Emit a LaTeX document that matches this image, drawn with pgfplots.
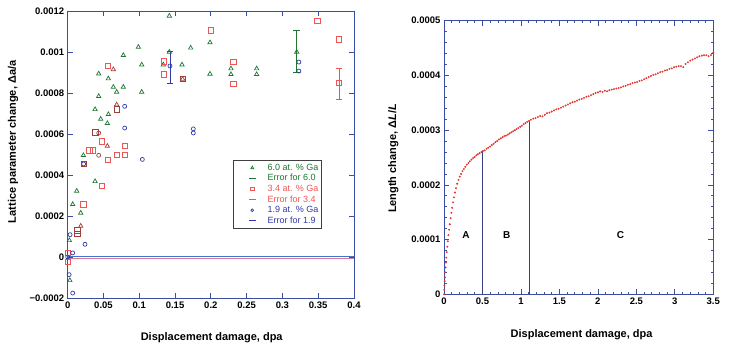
\documentclass[border=0pt]{standalone}
\usepackage{fontspec}
\setmainfont{Liberation Sans}
\usepackage{pgfplots}
\pgfplotsset{compat=1.18}

\definecolor{frameblue}{RGB}{58,78,165}
\definecolor{lineblue}{RGB}{55,65,130}
\definecolor{gGa}{RGB}{30,118,48}
\definecolor{rGa}{RGB}{238,85,85}
\definecolor{bGa}{RGB}{50,58,168}
\definecolor{brGa}{RGB}{160,62,60}
\definecolor{zeroline}{RGB}{60,120,205}
\definecolor{zeropink}{RGB}{225,120,150}
\definecolor{curvered}{RGB}{225,55,50}

\pgfplotsset{
  panel/.style={
    scale only axis,
    anchor=south west,
    axis line style={frameblue, line width=0.9pt},
    tick style={frameblue, line width=0.7pt},
    tick align=inside,
    xtick pos=both, ytick pos=both,
    major tick length=5pt, minor tick length=2.5pt,
    tick label style={font=\bfseries\fontsize{9.5}{11}\selectfont, text=black},
    label style={font=\bfseries\fontsize{11}{13}\selectfont},
    scaled x ticks=false, scaled y ticks=false,
  },
  markleg/.style={legend image code/.code={
      \draw[mark repeat=2,mark phase=2] plot coordinates {(0pt,0pt)(16pt,0pt)(32pt,0pt)};
      \path (0pt,0pt) (30pt,0pt);}},
  barleg/.style={legend image code/.code={
      \draw[line width=0.8pt] (12.5pt,0pt) -- (19.5pt,0pt);
      \path (0pt,0pt) (30pt,0pt);}},
  errbar/.style={mark=none, #1, barleg,
      error bars/.cd, y dir=both, y explicit, error mark=-,
      error bar style={#1, line width=0.9pt},
      error mark options={#1, line width=0.9pt, mark size=3.3pt, rotate=90}},
}

\begin{document}
\begin{tikzpicture}
\path[use as bounding box] (0pt,0pt) rectangle (729pt,350pt);

% ---------------- lattice parameter change ----------------
\begin{axis}[panel,
  at={(67.7pt,52pt)}, width=286.3pt, height=287pt,
  xmin=0, xmax=0.4, ymin=-0.0002, ymax=0.0012,
  xtick={0,0.05,0.1,0.15,0.2,0.25,0.3,0.35,0.4},
  xticklabels={0,0.05,0.1,0.15,0.2,0.25,0.3,0.35,0.4},
  ytick={-0.0002,0,0.0002,0.0004,0.0006,0.0008,0.001,0.0012},
  yticklabels={−0.0002,0,0.0002,0.0004,0.0006,0.0008,0.001,0.0012},
  xlabel={Displacement damage, dpa},
  ylabel={Lattice parameter change, Δa/a},
  xlabel style={at={(rel axis cs:0.503,-0.138)}, anchor=center},
  ylabel style={at={(rel axis cs:-0.191,0.544)}, anchor=center},
  clip=false,
  legend style={at={(rel axis cs:0.5763,0.481)}, anchor=north west,
    draw=black!75, line width=1.1pt, fill=white,
    font=\fontsize{9}{10}\selectfont, inner sep=2.5pt, row sep=0.9pt,
    nodes={inner sep=0.8pt, text height=6.5pt, text depth=1.6pt}},
  legend cell align=left,
]
% reference line at zero
\addplot[zeropink, line width=0.6pt, forget plot] coordinates {(0,-0.0000055) (0.4,-0.0000055)};
\addplot[zeroline, line width=1pt, forget plot] coordinates {(0,0) (0.4,0)};

% 6.0 at.% Ga
\addplot[only marks, mark=triangle, mark size=2.5pt, gGa, mark options={line width=0.7pt}, markleg,
  legend image post style={mark size=1.7pt}] coordinates {
(0.142,0.001176) (0.0987,0.001024) (0.0777,0.000984) (0.1718,0.00102)
(0.1988,0.001046) (0.142,0.001000) (0.1034,0.000938) (0.1336,0.000938)
(0.1597,0.000938) (0.0433,0.000894) (0.0568,0.000870) (0.1988,0.000893)
(0.2281,0.000919) (0.2281,0.000891) (0.264,0.000919) (0.264,0.000891)
(0.0638,0.000829) (0.0777,0.000829) (0.0684,0.000805) (0.1034,0.000805)
(0.0433,0.000784) (0.0382,0.000720) (0.0568,0.000696) (0.0461,0.000673)
(0.0554,0.000652) (0.0219,0.000496) (0.0382,0.000369) (0.0126,0.000322)
(0.0070,0.000257) (0.0182,0.000215) (0.0023,0.000081) (0.0030,-0.000114)
(0.32,0.001000)
};
\addlegendentry{\textcolor{gGa}{6.0 at. \% Ga}}
\addplot[errbar=gGa] coordinates {
(0.32,0.001) += (0,0.000106) -= (0,0.000098)
};
\addlegendentry{\textcolor{gGa}{Error for 6.0}}

% 3.4 at.% Ga
\addplot[only marks, mark=square, mark size=2.6pt, rGa, mark options={line width=0.7pt}, markleg,
  legend image post style={mark size=1.8pt}] coordinates {
(0.3487,0.001151) (0.1997,0.001106) (0.379,0.001062) (0.1345,0.000954)
(0.1345,0.000891) (0.2314,0.000951) (0.2314,0.000846) (0.0559,0.000932)
(0.0475,0.000564) (0.0796,0.000541) (0.0303,0.000520) (0.0349,0.000520)
(0.0689,0.000498) (0.0796,0.000498) (0.0559,0.000475) (0.0475,0.000346)
(0.0219,0.000257) (0.0005,0.000020) (0.0005,-0.000024) (0.379,0.000849)
};
\addlegendentry{\textcolor{rGa}{3.4 at. \% Ga}}
\addplot[errbar=rGa] coordinates {
(0.379,0.000849) += (0,0.00007) -= (0,0.00008)
};
\addlegendentry{\textcolor{rGa}{Error for 3.4}}

% 1.9 at.% Ga
\addplot[only marks, mark=o, mark size=2pt, bGa, mark options={line width=0.7pt}, markleg,
  legend image post style={mark size=1.4pt}] coordinates {
(0.1429,0.000932) (0.323,0.000951) (0.323,0.000907) (0.0796,0.000735)
(0.0796,0.000629) (0.1755,0.000625) (0.1755,0.000605) (0.1043,0.000476)
(0.0223,0.000454) (0.0033,0.000109) (0.0242,0.000062) (0.0070,0.000020)
(0.0020,-0.000086) (0.0070,-0.000176) (0.0000,0.000000)
};
\addlegendentry{\textcolor{bGa}{1.9 at. \% Ga}}
\addplot[errbar=bGa] coordinates {
(0.1429,0.000932) += (0,0.000073) -= (0,0.000086)
};
\addlegendentry{\textcolor{bGa}{Error for 1.9}}

% overlapping marks where the series coincide
\addplot[only marks, mark=triangle, mark size=2.5pt, brGa, mark options={line width=0.7pt}, forget plot] coordinates {
(0.0638,0.000915) (0.0554,0.000541) (0.0684,0.000743) (0.0182,0.000151) (0.1606,0.000868)
};
\addplot[only marks, mark=square, mark size=2.6pt, brGa, mark options={line width=0.7pt}, forget plot] coordinates {
(0.1606,0.000868) (0.0684,0.000720) (0.0386,0.000608) (0.0223,0.000454)
(0.0135,0.000130) (0.0135,0.000111)
};
\addplot[only marks, mark=o, mark size=2pt, brGa, mark options={line width=0.7pt}, forget plot] coordinates {
(0.0433,0.000496) (0.0433,0.000605)
};
\end{axis}

% ---------------- length change ----------------
\begin{axis}[panel,
  at={(444pt,55.7pt)}, width=269.3pt, height=273.6pt,
  xmin=0, xmax=3.5, ymin=0, ymax=0.0005,
  xtick={0,0.5,1,1.5,2,2.5,3,3.5},
  xticklabels={0,0.5,1,1.5,2,2.5,3,3.5},
  ytick={0,0.0001,0.0002,0.0003,0.0004,0.0005},
  yticklabels={0,0.0001,0.0002,0.0003,0.0004,0.0005},
  minor x tick num=4, minor y tick num=4,
  xlabel={Displacement damage, dpa},
  ylabel={Length change, Δ\textit{L}/\textit{L}},
  xlabel style={at={(rel axis cs:0.511,-0.146)}, anchor=center},
  ylabel style={at={(rel axis cs:-0.188,0.496)}, anchor=center},
]
\addplot[lineblue, line width=0.8pt] coordinates {(0.505,0) (0.505,0.000261)};
\addplot[lineblue, line width=0.8pt] coordinates {(1.11,0) (1.11,0.000317)};
\addplot[only marks, mark=*, mark size=0.75pt, curvered, mark options={draw=none}] table {
x y
0.000 0.000000
0.003 0.000008
0.006 0.000016
0.009 0.000024
0.012 0.000031
0.016 0.000040
0.020 0.000049
0.025 0.000058
0.030 0.000067
0.036 0.000077
0.043 0.000087
0.050 0.000097
0.058 0.000108
0.066 0.000118
0.075 0.000128
0.085 0.000139
0.095 0.000149
0.106 0.000158
0.118 0.000168
0.130 0.000177
0.143 0.000186
0.157 0.000194
0.172 0.000202
0.188 0.000209
0.205 0.000215
0.222 0.000220
0.240 0.000225
0.258 0.000229
0.277 0.000233
0.296 0.000237
0.316 0.000240
0.336 0.000243
0.357 0.000246
0.378 0.000249
0.399 0.000251
0.420 0.000254
0.441 0.000256
0.463 0.000258
0.485 0.000260
0.507 0.000262
0.530 0.000263
0.553 0.000266
0.576 0.000268
0.599 0.000270
0.622 0.000273
0.645 0.000275
0.668 0.000278
0.691 0.000280
0.714 0.000283
0.737 0.000285
0.760 0.000287
0.783 0.000289
0.806 0.000290
0.829 0.000292
0.852 0.000294
0.875 0.000296
0.898 0.000298
0.921 0.000300
0.944 0.000302
0.967 0.000304
0.990 0.000306
1.013 0.000308
1.036 0.000311
1.059 0.000313
1.082 0.000315
1.105 0.000317
1.130 0.000319
1.160 0.000321
1.190 0.000322
1.220 0.000324
1.250 0.000326
1.280 0.000325
1.310 0.000328
1.340 0.000331
1.370 0.000332
1.400 0.000334
1.430 0.000336
1.460 0.000338
1.490 0.000339
1.520 0.000341
1.550 0.000343
1.580 0.000345
1.610 0.000347
1.640 0.000349
1.670 0.000351
1.700 0.000352
1.730 0.000354
1.760 0.000356
1.790 0.000357
1.820 0.000359
1.850 0.000361
1.880 0.000362
1.910 0.000364
1.940 0.000366
1.970 0.000368
2.000 0.000369
2.030 0.000371
2.060 0.000370
2.090 0.000372
2.120 0.000371
2.150 0.000373
2.180 0.000374
2.210 0.000375
2.240 0.000376
2.270 0.000377
2.300 0.000378
2.330 0.000380
2.360 0.000381
2.390 0.000383
2.420 0.000384
2.450 0.000386
2.480 0.000387
2.510 0.000388
2.540 0.000390
2.570 0.000391
2.600 0.000393
2.630 0.000395
2.660 0.000397
2.690 0.000399
2.720 0.000401
2.750 0.000402
2.780 0.000404
2.810 0.000406
2.840 0.000407
2.870 0.000409
2.900 0.000410
2.930 0.000412
2.960 0.000413
2.990 0.000415
3.020 0.000416
3.050 0.000417
3.080 0.000417
3.110 0.000415
3.140 0.000421
3.170 0.000424
3.200 0.000427
3.230 0.000429
3.260 0.000431
3.290 0.000433
3.320 0.000435
3.350 0.000436
3.380 0.000437
3.410 0.000437
3.440 0.000435
3.470 0.000437
3.500 0.000442
};
\node[font=\bfseries\fontsize{10}{12}\selectfont] at (axis cs:0.286,0.000108) {A};
\node[font=\bfseries\fontsize{10}{12}\selectfont] at (axis cs:0.814,0.000108) {B};
\node[font=\bfseries\fontsize{10}{12}\selectfont] at (axis cs:2.295,0.000108) {C};
\end{axis}
\end{tikzpicture}
\end{document}
